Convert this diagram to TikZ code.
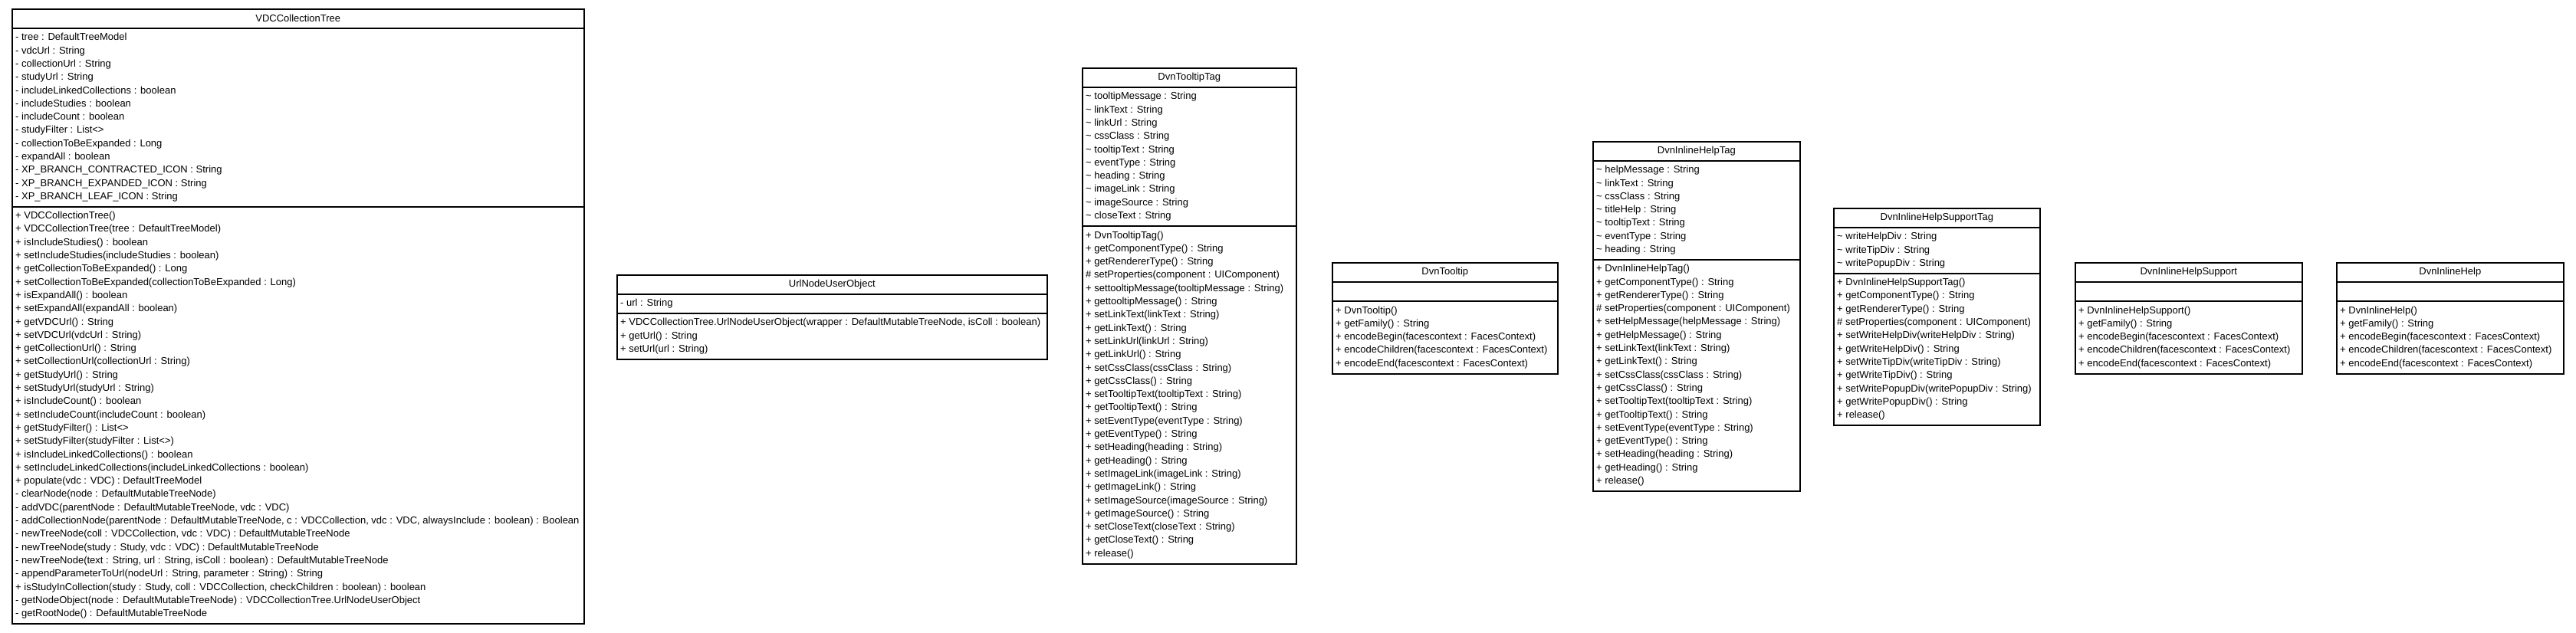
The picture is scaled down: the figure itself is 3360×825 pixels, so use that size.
\documentclass[tikz,border=0pt]{standalone}
\usepackage{fontspec}
\setmainfont{Liberation Sans}
\newcommand{\umlfont}{\fontsize{13}{17.3}\selectfont}
\newcommand{\tld}{\textasciitilde\ }
\tikzset{
  compbox/.style={draw=black, line width=1.6pt, fill=white, inner sep=0pt, font=\umlfont},
  listtext/.style={align=left, inner xsep=5pt, inner ysep=0pt, font=\umlfont, anchor=west},
}
\newcommand{\umlclass}[9]{%
  \pgfmathsetmacro{\uw}{#3-#2}%
  \pgfmathsetmacro{\uya}{#4+25}%
  \pgfmathsetmacro{\uha}{round(max(#5,1)*17.3+8)}%
  \pgfmathsetmacro{\uyb}{\uya+\uha}%
  \pgfmathsetmacro{\uhm}{round(#6*17.3+8)}%
  \node[compbox, minimum width=\uw pt, minimum height=25pt, anchor=north west] (#1) at (#2,#4) {#7};
  \node[compbox, minimum width=\uw pt, minimum height=\uha pt, anchor=north west] (#1-a) at (#2,\uya) {};
  \node[listtext] (#1-at) at (#1-a.west) {#8};
  \node[compbox, minimum width=\uw pt, minimum height=\uhm pt, anchor=north west] (#1-m) at (#2,\uyb) {};
  \node[listtext] (#1-mt) at (#1-m.west) {#9};
}
\begin{document}
\begin{tikzpicture}[x=1pt, y=-1pt]
\useasboundingbox[fill=white] (0,0) rectangle (3360,825);

\umlclass{vdc}{15}{761}{11}{13}{31}{VDCCollectionTree}{%
- tree : DefaultTreeModel\\
- vdcUrl : String\\
- collectionUrl : String\\
- studyUrl : String\\
- includeLinkedCollections : boolean\\
- includeStudies : boolean\\
- includeCount : boolean\\
- studyFilter : List<>\\
- collectionToBeExpanded : Long\\
- expandAll : boolean\\
- XP\_BRANCH\_CONTRACTED\_ICON : String\\
- XP\_BRANCH\_EXPANDED\_ICON : String\\
- XP\_BRANCH\_LEAF\_ICON : String}{%
+ VDCCollectionTree()\\
+ VDCCollectionTree(tree : DefaultTreeModel)\\
+ isIncludeStudies() : boolean\\
+ setIncludeStudies(includeStudies : boolean)\\
+ getCollectionToBeExpanded() : Long\\
+ setCollectionToBeExpanded(collectionToBeExpanded : Long)\\
+ isExpandAll() : boolean\\
+ setExpandAll(expandAll : boolean)\\
+ getVDCUrl() : String\\
+ setVDCUrl(vdcUrl : String)\\
+ getCollectionUrl() : String\\
+ setCollectionUrl(collectionUrl : String)\\
+ getStudyUrl() : String\\
+ setStudyUrl(studyUrl : String)\\
+ isIncludeCount() : boolean\\
+ setIncludeCount(includeCount : boolean)\\
+ getStudyFilter() : List<>\\
+ setStudyFilter(studyFilter : List<>)\\
+ isIncludeLinkedCollections() : boolean\\
+ setIncludeLinkedCollections(includeLinkedCollections : boolean)\\
+ populate(vdc : VDC) : DefaultTreeModel\\
- clearNode(node : DefaultMutableTreeNode)\\
- addVDC(parentNode : DefaultMutableTreeNode, vdc : VDC)\\
- addCollectionNode(parentNode : DefaultMutableTreeNode, c : VDCCollection, vdc : VDC, alwaysInclude : boolean) : Boolean\\
- newTreeNode(coll : VDCCollection, vdc : VDC) : DefaultMutableTreeNode\\
- newTreeNode(study : Study, vdc : VDC) : DefaultMutableTreeNode\\
- newTreeNode(text : String, url : String, isColl : boolean) : DefaultMutableTreeNode\\
- appendParameterToUrl(nodeUrl : String, parameter : String) : String\\
+ isStudyInCollection(study : Study, coll : VDCCollection, checkChildren : boolean) : boolean\\
- getNodeObject(node : DefaultMutableTreeNode) : VDCCollectionTree.UrlNodeUserObject\\
- getRootNode() : DefaultMutableTreeNode}

\umlclass{url}{804}{1365}{358}{1}{3}{UrlNodeUserObject}{%
- url : String}{%
+ VDCCollectionTree.UrlNodeUserObject(wrapper : DefaultMutableTreeNode, isColl : boolean)\\
+ getUrl() : String\\
+ setUrl(url : String)}

\umlclass{ttag}{1411}{1690}{88}{10}{25}{DvnTooltipTag}{%
\tld tooltipMessage : String\\
\tld linkText : String\\
\tld linkUrl : String\\
\tld cssClass : String\\
\tld tooltipText : String\\
\tld eventType : String\\
\tld heading : String\\
\tld imageLink : String\\
\tld imageSource : String\\
\tld closeText : String}{%
+ DvnTooltipTag()\\
+ getComponentType() : String\\
+ getRendererType() : String\\
\# setProperties(component : UIComponent)\\
+ settooltipMessage(tooltipMessage : String)\\
+ gettooltipMessage() : String\\
+ setLinkText(linkText : String)\\
+ getLinkText() : String\\
+ setLinkUrl(linkUrl : String)\\
+ getLinkUrl() : String\\
+ setCssClass(cssClass : String)\\
+ getCssClass() : String\\
+ setTooltipText(tooltipText : String)\\
+ getTooltipText() : String\\
+ setEventType(eventType : String)\\
+ getEventType() : String\\
+ setHeading(heading : String)\\
+ getHeading() : String\\
+ setImageLink(imageLink : String)\\
+ getImageLink() : String\\
+ setImageSource(imageSource : String)\\
+ getImageSource() : String\\
+ setCloseText(closeText : String)\\
+ getCloseText() : String\\
+ release()}

\umlclass{tip}{1737}{2031}{342}{0}{5}{DvnTooltip}{}{%
+ DvnTooltip()\\
+ getFamily() : String\\
+ encodeBegin(facescontext : FacesContext)\\
+ encodeChildren(facescontext : FacesContext)\\
+ encodeEnd(facescontext : FacesContext)}

\umlclass{htag}{2077}{2347}{184}{7}{17}{DvnInlineHelpTag}{%
\tld helpMessage : String\\
\tld linkText : String\\
\tld cssClass : String\\
\tld titleHelp : String\\
\tld tooltipText : String\\
\tld eventType : String\\
\tld heading : String}{%
+ DvnInlineHelpTag()\\
+ getComponentType() : String\\
+ getRendererType() : String\\
\# setProperties(component : UIComponent)\\
+ setHelpMessage(helpMessage : String)\\
+ getHelpMessage() : String\\
+ setLinkText(linkText : String)\\
+ getLinkText() : String\\
+ setCssClass(cssClass : String)\\
+ getCssClass() : String\\
+ setTooltipText(tooltipText : String)\\
+ getTooltipText() : String\\
+ setEventType(eventType : String)\\
+ getEventType() : String\\
+ setHeading(heading : String)\\
+ getHeading() : String\\
+ release()}

\umlclass{stag}{2391}{2660}{271}{3}{11}{DvnInlineHelpSupportTag}{%
\tld writeHelpDiv : String\\
\tld writeTipDiv : String\\
\tld writePopupDiv : String}{%
+ DvnInlineHelpSupportTag()\\
+ getComponentType() : String\\
+ getRendererType() : String\\
\# setProperties(component : UIComponent)\\
+ setWriteHelpDiv(writeHelpDiv : String)\\
+ getWriteHelpDiv() : String\\
+ setWriteTipDiv(writeTipDiv : String)\\
+ getWriteTipDiv() : String\\
+ setWritePopupDiv(writePopupDiv : String)\\
+ getWritePopupDiv() : String\\
+ release()}

\umlclass{sup}{2706}{3002}{342}{0}{5}{DvnInlineHelpSupport}{}{%
+ DvnInlineHelpSupport()\\
+ getFamily() : String\\
+ encodeBegin(facescontext : FacesContext)\\
+ encodeChildren(facescontext : FacesContext)\\
+ encodeEnd(facescontext : FacesContext)}

\umlclass{help}{3047}{3343}{342}{0}{5}{DvnInlineHelp}{}{%
+ DvnInlineHelp()\\
+ getFamily() : String\\
+ encodeBegin(facescontext : FacesContext)\\
+ encodeChildren(facescontext : FacesContext)\\
+ encodeEnd(facescontext : FacesContext)}
\end{tikzpicture}
\end{document}
